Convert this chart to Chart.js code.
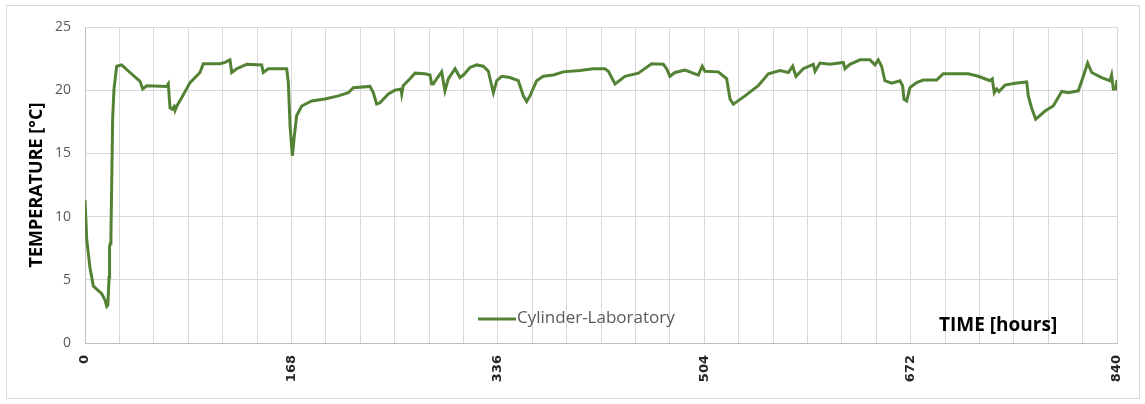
<!DOCTYPE html>
<html lang="en">

<head>
    <meta charset="UTF-8">
    <title>Cylinder-Laboratory temperature</title>
    <script src="https://cdn.jsdelivr.net/npm/chart.js"></script>
    <style>
        body { margin: 0; background: #fff; }
        .chart-box { position: relative; width: 1145px; height: 404px; }
    </style>
</head>

<body>
    <div class="chart-box">
        <canvas id="tempChart" width="1145" height="404"></canvas>
    </div>

    <script>
        const hours = [0, 1.4, 4, 6.8, 13.6, 16.3, 17.7, 18.6, 19.6, 20.0, 20.6, 21.1, 21.7, 22.5, 23.6, 25.8,
            29.8, 36.6, 44.8, 47, 50.2, 66.5, 67.8, 69.2, 71, 72.5, 73.3, 75, 78.7, 85.5, 93.6, 96.3,
            109.9, 114, 118, 119.4, 123.5, 131.6, 143.8, 145.1, 149.2, 164.2, 165.5, 166.9, 168.8, 170.4,
            172.3, 176.4, 184.5, 195.3, 206.2, 214.3, 218.4, 232, 234.7, 237.4, 240.1, 246.9, 252.3,
            257.2, 257.8, 259, 264.5, 268.6, 276.7, 280.8, 282.2, 283.5, 286.2, 290.3, 293, 295.7,
            301.2, 305.2, 308, 313.4, 318.8, 324.2, 328.3, 331, 332.4, 335.1, 339.2, 345.9, 352.7,
            356.8, 359.5, 362.2, 367.6, 373, 381.2, 389.3, 402.9, 413.7, 423.2, 426, 431.4, 439.5,
            450.4, 461.2, 470.7, 473.4, 476.1, 480.2, 488.4, 499.2, 502.4, 504.6, 515.5, 522.3, 525,
            527.7, 537.2, 548, 556.2, 565.7, 572.5, 576, 578.7, 584.6, 592.8, 594.2, 598.2, 606.4,
            617.2, 618.6, 622.6, 630.8, 638.9, 643, 645.7, 648.4, 651.1, 656.5, 663.3, 665.5, 666.6,
            668.8, 671.5, 676.9, 682.3, 693.2, 698.6, 712.2, 718.9, 727.1, 736.6, 738.5, 740.1, 742.1,
            744, 748.8, 757, 766.5, 767.8, 770.5, 773.8, 781.4, 788.1, 795, 800.3, 808.5, 812.6, 816.1,
            819.4, 827.5, 834.3, 835.6, 837, 839, 840];

        const cylinderLab = [11.3, 8.2, 6.0, 4.5, 3.9, 3.4, 2.9, 3.0, 5.2, 7.6, 7.9, 8.5, 12.4, 17.7, 20.1, 21.9,
            22.0, 21.4, 20.7, 20.1, 20.35, 20.3, 20.5, 18.6, 18.5, 18.7, 18.4, 18.8, 19.4, 20.6, 21.4, 22.1,
            22.1, 22.2, 22.4, 21.4, 21.7, 22.05, 22.0, 21.4, 21.7, 21.7, 20.6, 17.2, 14.8, 16.4,
            18.0, 18.75, 19.15, 19.3, 19.55, 19.8, 20.2, 20.3, 19.8, 18.9, 19.0, 19.7, 20.0,
            20.1, 19.7, 20.35, 20.9, 21.35, 21.3, 21.2, 20.5, 20.5, 20.9, 21.45, 19.95, 20.9,
            21.7, 21.0, 21.2, 21.8, 22.0, 21.9, 21.5, 20.35, 19.8, 20.75, 21.1, 21.0, 20.75,
            19.55, 19.1, 19.55, 20.75, 21.1, 21.2, 21.45, 21.55, 21.7, 21.7, 21.5, 20.5, 21.1,
            21.35, 22.1, 22.05, 21.7, 21.1, 21.4, 21.6, 21.2, 21.9, 21.5, 21.45, 20.9, 19.3,
            18.9, 19.55, 20.35, 21.3, 21.55, 21.4, 21.9, 21.1, 21.7, 22.05, 21.5, 22.15, 22.05,
            22.2, 21.7, 22.05, 22.4, 22.4, 22.0, 22.4, 21.9, 20.75, 20.55, 20.75, 20.35, 19.3,
            19.15, 20.2, 20.6, 20.8, 20.8, 21.3, 21.3, 21.3, 21.1, 20.75, 20.9, 19.8, 20.1,
            19.9, 20.4, 20.55, 20.65, 19.55, 18.6, 17.7, 18.35, 18.75, 19.9, 19.8, 19.95, 21.1, 22.15,
            21.4, 21.0, 20.75, 21.2, 20.1, 20.1, 20.8];

        const yTicks = [0, 5, 10, 15, 20, 25];
        const xLabelEvery = 168;
        const xGridEvery = 28;

        const lineColor = '#548235';

        // legend and axis title sit inside the plot area, like the original sheet chart
        const insideText = {
            id: 'insideText',
            beforeDraw(chart) {
                const ctx = chart.ctx;
                ctx.save();
                ctx.fillStyle = '#fff';
                ctx.fillRect(0, 0, chart.width, chart.height);
                ctx.strokeStyle = '#d9d9d9';
                ctx.lineWidth = 1;
                ctx.strokeRect(6.5, 5.5, chart.width - 12, chart.height - 11);
                ctx.restore();
            },
            afterDraw(chart) {
                const ctx = chart.ctx;
                const a = chart.chartArea;
                ctx.save();
                ctx.strokeStyle = lineColor;
                ctx.lineWidth = 3;
                ctx.beginPath();
                ctx.moveTo(a.left + 393, a.bottom - 24);
                ctx.lineTo(a.left + 431, a.bottom - 24);
                ctx.stroke();
                ctx.fillStyle = '#595959';
                ctx.font = '17px "Open Sans"';
                ctx.textBaseline = 'middle';
                ctx.fillText('Cylinder-Laboratory', a.left + 432, a.bottom - 25);
                ctx.fillStyle = '#000';
                ctx.font = 'bold 19px "Open Sans"';
                ctx.fillText('TIME [hours]', a.left + 854, a.bottom - 17);
                ctx.restore();
            }
        };

        const tempChart = new Chart(document.getElementById('tempChart'), {
            type: 'line',
            data: {
                datasets: [{
                    label: 'Cylinder-Laboratory',
                    data: hours.map((h, i) => ({ x: h, y: cylinderLab[i] })),
                    borderColor: lineColor,
                    borderWidth: 3,
                    pointRadius: 0,
                    tension: 0,
                    fill: false
                }]
            },
            options: {
                responsive: false,
                animation: false,
                layout: { padding: { left: 10, top: 27, right: 28, bottom: 0 } },
                plugins: {
                    legend: { display: false },
                    tooltip: { enabled: false }
                },
                scales: {
                    x: {
                        type: 'linear',
                        min: 0,
                        max: 840,
                        afterBuildTicks(scale) {
                            scale.ticks = [];
                            for (let v = 0; v <= 840; v += xGridEvery) scale.ticks.push({ value: v });
                        },
                        afterFit(scale) { scale.height = 61; },
                        grid: { color: '#d9d9d9', drawTicks: false },
                        border: { color: '#bfbfbf' },
                        ticks: {
                            autoSkip: false,
                            minRotation: 90,
                            maxRotation: 90,
                            padding: 12,
                            color: '#262626',
                            font: { family: 'DejaVu Sans', size: 13, weight: 'bold' },
                            callback: v => (v % xLabelEvery === 0 ? String(v) : '')
                        }
                    },
                    y: {
                        min: 0,
                        max: 25,
                        afterBuildTicks(scale) {
                            scale.ticks = yTicks.map(v => ({ value: v }));
                        },
                        afterFit(scale) { scale.width = 75; },
                        grid: { color: '#d9d9d9', drawTicks: false },
                        border: { color: '#bfbfbf' },
                        ticks: {
                            padding: 14,
                            color: '#595959',
                            font: { family: 'Open Sans', size: 14 }
                        },
                        title: {
                            display: true,
                            text: 'TEMPERATURE [°C]',
                            color: '#000',
                            padding: { top: 16, bottom: 0 },
                            font: { family: 'Open Sans', size: 18, weight: 'bold' }
                        }
                    }
                }
            },
            plugins: [insideText]
        });
    </script>
</body>

</html>
